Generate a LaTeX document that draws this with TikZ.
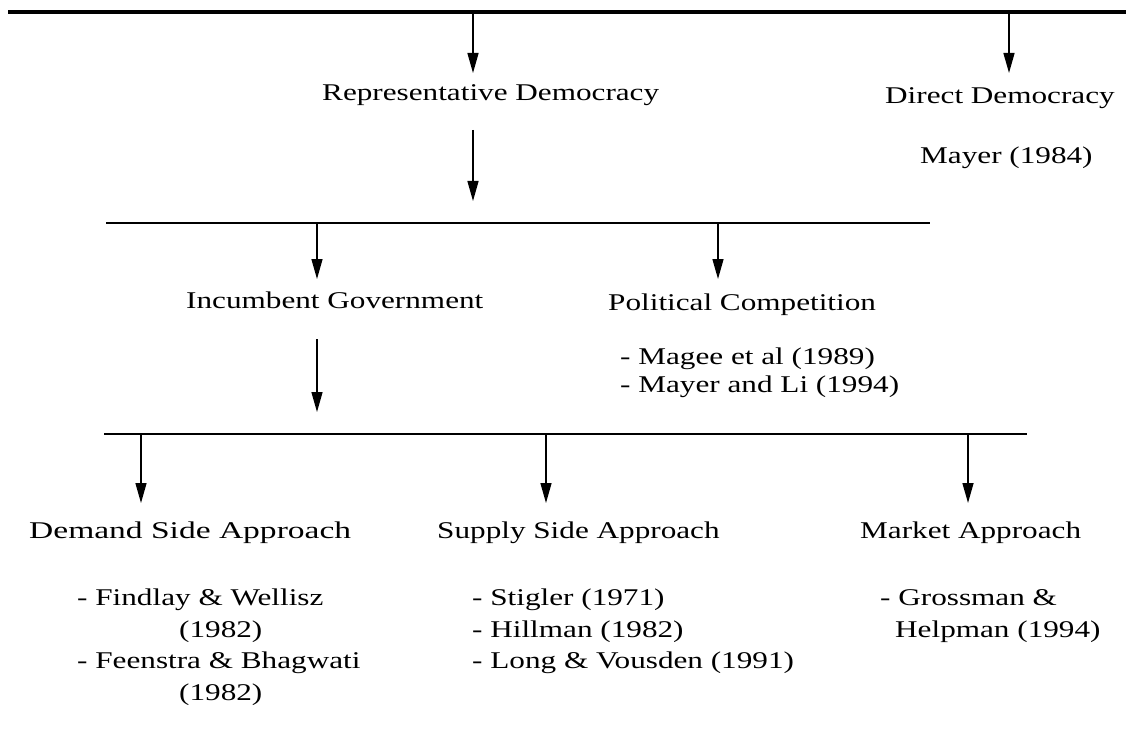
\documentclass[tikz,border=0pt]{standalone}
\usepackage{fontspec}
\usepackage{graphicx}
\setmainfont{Liberation Serif}[FakeStretch=1.3]
\usetikzlibrary{arrows.meta}
\begin{document}
\begin{tikzpicture}[x=1pt,y=-1pt,
  lbl/.style={anchor=base west,inner sep=0pt,font=\fontsize{24}{28}\selectfont},
  topbus/.style={line width=3.5pt},
  bus/.style={line width=2.2pt},
  arr/.style={line width=1.4pt,-{Triangle[length=20pt,width=11pt]}}]
\fill[white] (0,0) rectangle (1126,738);
\useasboundingbox (0,0) rectangle (1126,738);

% horizontal bus lines
\coordinate (L1a) at (8,12);    \coordinate (L1b) at (1126,12);
\coordinate (L2a) at (106,223); \coordinate (L2b) at (930,223);
\coordinate (L3a) at (104,434); \coordinate (L3b) at (1027,434);
\draw[topbus] (L1a) -- (L1b);
\draw[bus] (L2a) -- (L2b);
\draw[bus] (L3a) -- (L3b);

% text nodes
\node[lbl] (rep) at (322,101) {Representative Democracy};
\node[lbl] (direct) at (885,104) {Direct Democracy};
\node[lbl] (mayer) at (920,164) {Mayer (1984)};
\node[lbl] (inc) at (186,308) {Incumbent Government};
\node[lbl] (pol) at (608,310) {Political Competition};
\node[lbl] (magee) at (620,364) {- Magee et al (1989)};
\node[lbl] (mayerli) at (620,392) {- Mayer and Li (1994)};
\node[lbl] (demand) at (29,538) {\resizebox{322pt}{\height}{Demand Side Approach}};
\node[lbl] (supply) at (437,538) {Supply Side Approach};
\node[lbl] (market) at (860,538) {Market Approach};
\node[lbl] (findlay) at (77,605) {- Findlay \& Wellisz};
\node[lbl] (findlayy) at (179,637) {(1982)};
\node[lbl] (feenstra) at (77,668) {- Feenstra \& Bhagwati};
\node[lbl] (feenstray) at (179,700) {(1982)};
\node[lbl] (stigler) at (472,605) {- Stigler (1971)};
\node[lbl] (hillman) at (472,637) {- Hillman (1982)};
\node[lbl] (long) at (472,668) {- Long \& Vousden (1991)};
\node[lbl] (grossman) at (880,605) {- Grossman \&};
\node[lbl] (helpman) at (895,637) {Helpman (1994)};

% arrow end points
\coordinate (a1s) at (473,12);  \coordinate (a1e) at (473,73);
\coordinate (a2s) at (1009,12); \coordinate (a2e) at (1009,73);
\coordinate (a3s) at (473,130); \coordinate (a3e) at (473,201);
\coordinate (a4s) at (317,223); \coordinate (a4e) at (317,279);
\coordinate (a5s) at (718,223); \coordinate (a5e) at (718,279);
\coordinate (a6s) at (317,339); \coordinate (a6e) at (317,412);
\coordinate (a7s) at (141,434); \coordinate (a7e) at (141,503);
\coordinate (a8s) at (546,434); \coordinate (a8e) at (546,503);
\coordinate (a9s) at (968,434); \coordinate (a9e) at (968,503);
\foreach \i in {1,...,9} {\draw[arr] (a\i s) -- (a\i e);}
\end{tikzpicture}
\end{document}
